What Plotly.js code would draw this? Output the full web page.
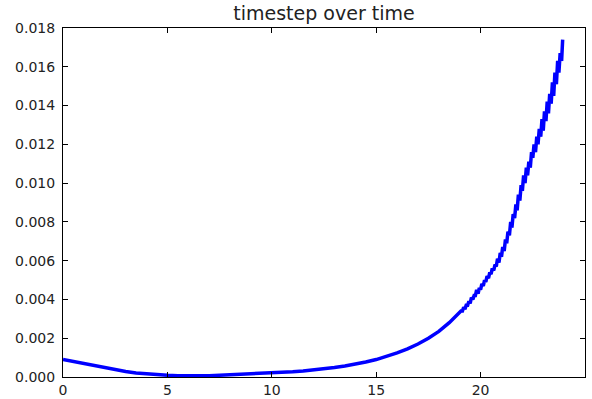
<!DOCTYPE html>
<html>
<head>
<meta charset="utf-8">
<script src="https://cdn.plot.ly/plotly-3.0.1.min.js"></script>
<style>html,body{margin:0;padding:0;background:#fff;}#chart{width:592px;height:399px;}</style>
</head>
<body>
<div id="chart"></div>
<script>
const time = [
  0, 0.5, 1, 1.5, 2, 2.5, 3, 3.5, 4, 4.5, 5, 5.5, 6, 6.5, 7, 7.5, 8, 8.5, 9, 9.5,
  10, 10.5, 11, 11.5, 12, 12.5, 13, 13.5, 14, 14.5, 15, 15.5, 16, 16.5, 17, 17.5, 18, 18.5,
  19.0, 19.06, 19.13, 19.19, 19.25, 19.31, 19.38, 19.44, 19.5, 19.56, 19.63, 19.69, 19.75, 19.81, 19.88, 19.94,
  20.0, 20.06, 20.13, 20.19, 20.25, 20.31, 20.38, 20.44, 20.5, 20.56, 20.63, 20.69, 20.75, 20.81, 20.88, 20.94,
  21.0, 21.06, 21.13, 21.19, 21.25, 21.31, 21.38, 21.44, 21.5, 21.56, 21.63, 21.69, 21.75, 21.81, 21.88, 21.94,
  22.0, 22.06, 22.13, 22.19, 22.25, 22.31, 22.38, 22.44, 22.5, 22.56, 22.63, 22.69, 22.75, 22.81, 22.88, 22.94,
  23.0, 23.06, 23.13, 23.19, 23.25, 23.31, 23.38, 23.44, 23.5, 23.56, 23.63, 23.69, 23.75, 23.81, 23.88, 23.93
];
const timestep = [
  0.0009, 0.0008, 0.00068, 0.00056, 0.00046, 0.00036, 0.00028, 0.00021, 0.00016, 0.00011,
  0.00009, 0.00007, 0.00006, 0.00006, 0.00007, 0.00009, 0.00011, 0.00013, 0.00015, 0.00018,
  0.00021, 0.00024, 0.00027, 0.00031, 0.00036, 0.00042, 0.00049, 0.00057, 0.00066, 0.00077,
  0.0009, 0.00106, 0.00124, 0.00145, 0.0017, 0.002, 0.00235, 0.0028,
  0.0033, 0.0034, 0.0034, 0.0036, 0.0035, 0.0037, 0.0037, 0.0039, 0.0038, 0.0041, 0.0040, 0.0042, 0.0042, 0.0045, 0.0043, 0.0046,
  0.0045, 0.0048, 0.0047, 0.0050, 0.0049, 0.0052, 0.0051, 0.0054, 0.0053, 0.0056, 0.0055, 0.0058, 0.0057, 0.0061, 0.0059, 0.0064,
  0.0062, 0.0067, 0.0065, 0.0071, 0.0069, 0.0075, 0.0073, 0.0080, 0.0077, 0.0084, 0.0082, 0.0089, 0.0086, 0.0094, 0.0091, 0.0099,
  0.0096, 0.0104, 0.0100, 0.0108, 0.0104, 0.0111, 0.0108, 0.0116, 0.0113, 0.0120, 0.0116, 0.0124, 0.0120, 0.0128, 0.0124, 0.0133,
  0.0127, 0.0137, 0.0132, 0.0142, 0.0136, 0.0146, 0.0141, 0.0152, 0.0145, 0.0157, 0.0151, 0.0163, 0.0157, 0.0167, 0.0163, 0.0174
];
const xTicks = [0, 5, 10, 15, 20, 25];
const yTicks = [0, 0.002, 0.004, 0.006, 0.008, 0.010, 0.012, 0.014, 0.016, 0.018];

const axisCommon = {
  showgrid: false, zeroline: false, showline: true, linecolor: '#000', linewidth: 1,
  mirror: 'ticks', ticks: 'inside', ticklen: 5, tickcolor: '#000', tickwidth: 1,
  tickfont: {family: 'DejaVu Sans', size: 14, color: '#222'}
};

Plotly.newPlot('chart', [{
  x: time, y: timestep, type: 'scatter', mode: 'lines',
  line: {color: '#0000ff', width: 3.5}
}], {
  width: 592, height: 399,
  margin: {l: 63, r: 7, t: 28, b: 22},
  paper_bgcolor: '#fff', plot_bgcolor: '#fff',
  showlegend: false,
  title: {text: 'timestep over time', font: {family: 'DejaVu Sans', size: 19, color: '#222'},
          xref: 'paper', x: 0.5, xanchor: 'center', yref: 'container', y: 0.967, yanchor: 'middle'},
  xaxis: Object.assign({}, axisCommon, {range: [0, 25], tickvals: xTicks, ticktext: xTicks.map(String)}),
  yaxis: Object.assign({}, axisCommon, {range: [0, 0.018], tickvals: yTicks, ticktext: yTicks.map(v => v.toFixed(3)), ticklabelstandoff: 4})
}, {displayModeBar: false, staticPlot: true});
</script>
</body>
</html>
